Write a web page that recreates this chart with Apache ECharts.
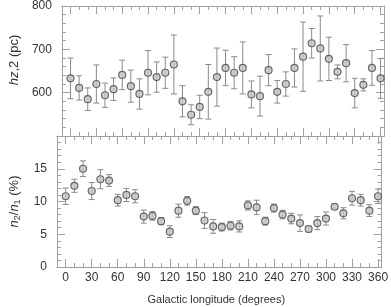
<!DOCTYPE html>
<html>
<head>
<meta charset="utf-8">
<script src="https://cdn.jsdelivr.net/npm/echarts@6/dist/echarts.min.js"></script>
<style>
  html, body { margin: 0; padding: 0; background: #fff; }
  #chart { width: 391px; height: 307px; }
</style>
</head>
<body>
<div id="chart"></div>
<script>
// galactic longitude of each field (deg)
const longitudes = [0, 10, 20, 30, 40, 50, 60, 70, 80, 90, 100, 110, 120, 130, 140, 150, 160, 170, 180,
  190, 200, 210, 220, 230, 240, 250, 260, 270, 280, 290, 300, 310, 320, 330, 340, 350, 360];

// top panel: scale height hz,2 (pc) and its error
const scaleHeight = [633, 611, 585, 620, 594, 608, 641, 615, 597, 646, 636, 646, 665, 580, 549, 567, 602, 636, 657,
  646, 657, 596, 592, 652, 602, 620, 657, 683, 714, 702, 678, 648, 668, 599, 618, 657, 633];
const scaleHeightErr = [47, 28, 26, 44, 28, 26, 34, 37, 35, 51, 35, 36, 68, 36, 23, 27, 63, 67, 41,
  37, 60, 31, 46, 36, 26, 28, 44, 80, 34, 75, 50, 16, 43, 34, 14, 40, 46];

// bottom panel: n2/n1 (%) and its error
const ratio = [10.8, 12.4, 15.0, 11.6, 13.4, 13.2, 10.2, 11.0, 10.8, 7.7, 7.8, 7.0, 5.4, 8.6, 10.1, 8.6, 7.1, 6.2, 6.1,
  6.3, 6.2, 9.4, 9.1, 7.0, 9.0, 8.0, 7.4, 6.7, 5.8, 6.7, 7.4, 9.2, 8.2, 10.5, 10.2, 8.6, 10.8];
const ratioErr = [1.25, 1.0, 1.2, 1.3, 1.45, 0.9, 0.9, 1.0, 1.0, 1.0, 0.65, 0.55, 0.9, 1.0, 0.65, 0.6, 1.2, 1.05, 0.6,
  0.65, 0.85, 0.7, 1.1, 0.6, 0.6, 0.65, 0.8, 1.25, 0.45, 1.0, 1.0, 0.4, 0.85, 1.05, 0.9, 0.9, 1.1];

const xMajorTicks = [0, 30, 60, 90, 120, 150, 180, 210, 240, 270, 300, 330, 360];
const xMinorTicks = [10, 20, 40, 50, 70, 80, 100, 110, 130, 140, 160, 170, 190, 200, 220, 230, 250, 260,
  280, 290, 310, 320, 340, 350];

const chart = echarts.init(document.getElementById('chart'));

const frame = '#a0a0a0';
const ink = '#333';
const font = 'Liberation Sans, Arial, sans-serif';

// one x axis = one edge of one panel, either the long or the short ticks
function xEdge(grid, position, ticks, len, labels) {
  return {
    type: 'value', gridIndex: grid, position: position, min: -10, max: 364,
    splitLine: { show: false },
    axisLine: { onZero: false, lineStyle: { color: frame } },
    axisTick: { inside: true, length: len, customValues: ticks, lineStyle: { color: frame } },
    axisLabel: labels
      ? { customValues: xMajorTicks, color: ink, fontSize: 12, fontFamily: font, margin: 5 }
      : { show: false }
  };
}

const xAxes = [];
[0, 1].forEach(function (g) {
  ['bottom', 'top'].forEach(function (pos) {
    xAxes.push(xEdge(g, pos, xMajorTicks, 8, g === 1 && pos === 'bottom'));
    xAxes.push(xEdge(g, pos, xMinorTicks, 4, false));
  });
});
// x axis index 4 = bottom panel, bottom edge: carries the title
xAxes[4].name = 'Galactic longitude (degrees)';
xAxes[4].nameLocation = 'middle';
xAxes[4].nameGap = 27;
xAxes[4].nameTextStyle = { color: ink, fontSize: 11, fontFamily: font, padding: [0, 6, 0, 0] };

function yEdge(grid, position, min, max, step, minorSplit) {
  return {
    type: 'value', gridIndex: grid, position: position, min: min, max: max, interval: step,
    splitLine: { show: false },
    axisLine: { onZero: false, lineStyle: { color: frame } },
    axisTick: { inside: true, length: 8, lineStyle: { color: frame } },
    minorTick: { show: true, splitNumber: minorSplit, length: 4, lineStyle: { color: frame } },
    axisLabel: { show: false }
  };
}

const yAxes = [
  yEdge(0, 'left', 500, 800, 100, 5),
  yEdge(0, 'right', 500, 800, 100, 5),
  yEdge(1, 'left', 0, 20, 5, 5),
  yEdge(1, 'right', 0, 20, 5, 5)
];
yAxes[0].axisLabel = { show: true, showMinLabel: false, color: ink, fontSize: 12, fontFamily: font, margin: 10 };
yAxes[2].axisLabel = { show: true, showMaxLabel: false, color: ink, fontSize: 12, fontFamily: font, margin: 10 };

yAxes[0].name = '{i|hz},2 (pc)';
yAxes[0].nameLocation = 'middle';
yAxes[0].nameGap = 38;
yAxes[0].nameTextStyle = {
  color: ink, fontSize: 13, fontFamily: font, padding: [0, 0, 0, 22],
  rich: { i: { fontStyle: 'italic', fontSize: 13, fontFamily: font, color: ink } }
};
yAxes[2].name = '{i|n}{s|2}/{i|n}{s|1} (%)';
yAxes[2].nameLocation = 'middle';
yAxes[2].nameGap = 35;
yAxes[2].nameTextStyle = {
  color: ink, fontSize: 13, fontFamily: font,
  rich: {
    i: { fontStyle: 'italic', fontSize: 13, fontFamily: font, color: ink },
    s: { fontSize: 9, fontFamily: font, color: ink, verticalAlign: 'bottom', padding: [6, 0, 0, 0] }
  }
};

function errorBars(params, api) {
  const x = api.value(0);
  const hi = api.coord([x, api.value(2)]);
  const lo = api.coord([x, api.value(1)]);
  const style = { stroke: '#8a8a8a', lineWidth: 1 };
  return {
    type: 'group',
    children: [
      { type: 'line', shape: { x1: hi[0], y1: hi[1], x2: lo[0], y2: lo[1] }, style: style },
      { type: 'line', shape: { x1: hi[0] - 3, y1: hi[1], x2: hi[0] + 3, y2: hi[1] }, style: style },
      { type: 'line', shape: { x1: lo[0] - 3, y1: lo[1], x2: lo[0] + 3, y2: lo[1] }, style: style }
    ]
  };
}

const pointStyle = { color: '#c4c4c4', borderColor: '#4a4a4a', borderWidth: 1.2 };

const option = {
  animation: false,
  backgroundColor: '#fff',
  grid: [
    { left: 52, top: 5, width: 332, height: 131 },
    { left: 52, top: 136, width: 332, height: 131 }
  ],
  xAxis: xAxes,
  yAxis: yAxes,
  series: [
    {
      type: 'custom', xAxisIndex: 0, yAxisIndex: 0, renderItem: errorBars, z: 2,
      data: longitudes.map((l, i) => [l, scaleHeight[i] - scaleHeightErr[i], scaleHeight[i] + scaleHeightErr[i]])
    },
    {
      type: 'scatter', xAxisIndex: 0, yAxisIndex: 0, symbol: 'circle', symbolSize: 7, z: 3,
      itemStyle: pointStyle,
      data: longitudes.map((l, i) => [l, scaleHeight[i]])
    },
    {
      type: 'custom', xAxisIndex: 4, yAxisIndex: 2, renderItem: errorBars, z: 2,
      data: longitudes.map((l, i) => [l, ratio[i] - ratioErr[i], ratio[i] + ratioErr[i]])
    },
    {
      type: 'scatter', xAxisIndex: 4, yAxisIndex: 2, symbol: 'circle', symbolSize: 7, z: 3,
      itemStyle: pointStyle,
      data: longitudes.map((l, i) => [l, ratio[i]])
    }
  ]
};

chart.setOption(option);
</script>
</body>
</html>
